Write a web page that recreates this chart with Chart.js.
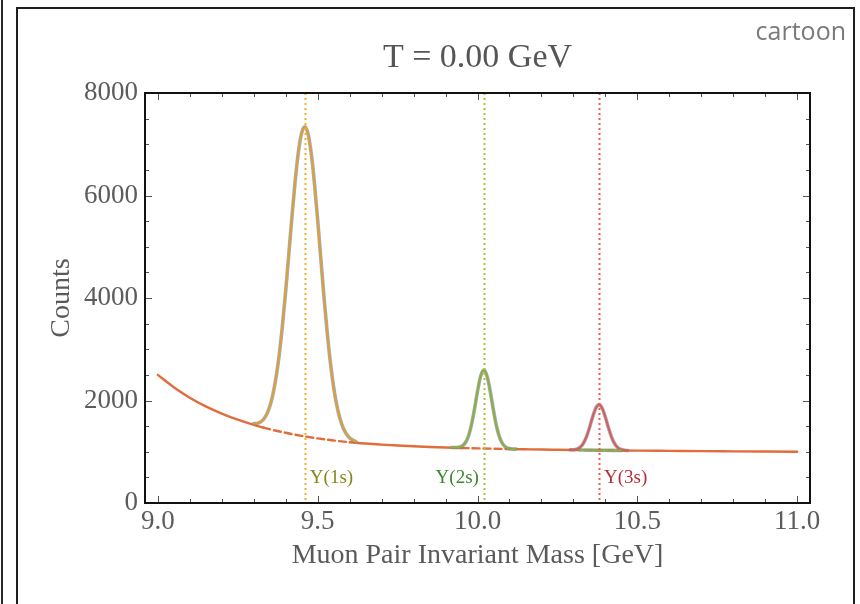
<!DOCTYPE html>
<html>
<head>
<meta charset="utf-8">
<title>Upsilon states, T = 0.00 GeV</title>
<script src="https://cdn.jsdelivr.net/npm/chart.js@4.4.1/dist/chart.umd.min.js"></script>
<style>
  html, body { margin: 0; padding: 0; background: #fff; }
  #wrap { position: relative; width: 860px; height: 604px; overflow: hidden; }
  #edge { position: absolute; left: 1px; top: 0; width: 2px; height: 604px; background: #2a2a2a; }
  #frame { position: absolute; left: 16px; top: 7px; width: 839px; height: 640px;
           border: 2px solid #1e1e1e; box-sizing: border-box; }
  canvas { position: absolute; left: 0; top: 0; }
</style>
</head>
<body>
<div id="wrap">
  <div id="edge"></div>
  <div id="frame"></div>
  <canvas id="c" width="860" height="604"></canvas>
</div>
<script>
// Smooth continuum under the resonances (GeV, counts)
const bgMass   = [9.00, 9.05, 9.10, 9.15, 9.20, 9.25, 9.30, 9.33, 9.35, 9.40, 9.45, 9.50, 9.55, 9.60,
                  9.65, 9.70, 9.75, 9.80, 9.85, 9.90, 9.95, 10.00, 10.05, 10.10, 10.15, 10.20, 10.25,
                  10.30, 10.35, 10.40, 10.45, 10.50, 10.60, 10.70, 10.80, 10.90, 11.00];
const bgCounts = [2500, 2260, 2055, 1885, 1745, 1625, 1525, 1473, 1440, 1370, 1310, 1260, 1220, 1185,
                  1160, 1140, 1122, 1107, 1094, 1083, 1074, 1066, 1059, 1053, 1048, 1043, 1039,
                  1035, 1031, 1028, 1025, 1022, 1017, 1012, 1008, 1004, 1000];

// Upsilon(1S) peak on top of the continuum
const y1sMass   = [9.30, 9.31, 9.32, 9.33, 9.34, 9.35, 9.36, 9.37, 9.38, 9.39, 9.40, 9.41, 9.42, 9.43,
                   9.44, 9.45, 9.46, 9.47, 9.48, 9.49, 9.50, 9.51, 9.52, 9.53, 9.54, 9.55, 9.56, 9.57,
                   9.58, 9.59, 9.60, 9.61, 9.62];
const y1sCounts = [1548, 1553, 1576, 1627, 1721, 1877, 2116, 2452, 2903, 3469, 4135, 4869, 5614, 6302,
                   6860, 7220, 7340, 7200, 6818, 6238, 5528, 4763, 4009, 3322, 2734, 2261, 1903, 1643,
                   1464, 1346, 1271, 1226, 1198];

// Upsilon(2S) peak (continuing along the continuum under the 3S)
const y2sMass   = [9.92, 9.93, 9.94, 9.95, 9.96, 9.97, 9.98, 9.99, 10.00, 10.01, 10.02, 10.03, 10.04,
                   10.05, 10.06, 10.07, 10.08, 10.09, 10.10, 10.11, 10.12, 10.20,
                   10.32, 10.35, 10.40, 10.45];
const y2sCounts = [1082, 1082, 1086, 1104, 1158, 1278, 1494, 1813, 2177, 2477, 2593, 2474, 2172,
                   1804, 1483, 1264, 1142, 1084, 1062, 1054, 1051, null,
                   1034, 1031, 1028, 1025];

// Upsilon(3S) peak
const y3sMass   = [10.29, 10.30, 10.31, 10.32, 10.33, 10.34, 10.35, 10.36, 10.37, 10.38, 10.39, 10.40,
                   10.41, 10.42, 10.43, 10.44, 10.45, 10.46, 10.47];
const y3sCounts = [1037, 1040, 1052, 1084, 1153, 1279, 1464, 1676, 1850, 1919, 1849, 1674,
                   1460, 1273, 1146, 1075, 1043, 1029, 1024];

// Resonance markers
const stateMass  = [9.46, 10.02, 10.38];
const stateNames = ['Υ(1s)', 'Υ(2s)', 'Υ(3s)'];
const labelLevel = 480;

// Axis ticks
const xTicks = [9.0, 9.5, 10.0, 10.5, 11.0];
const yTicks = [0, 2000, 4000, 6000, 8000];

const SERIF = '"Liberation Serif", "Times New Roman", serif';

const pts = (xs, ys) => xs.map((m, i) => ({ x: m, y: ys[i] }));

// continuum is dashed where it runs beneath a peak
const dashedSpans = [[9.33, 9.60], [9.95, 10.10], [10.30, 10.45]];
const underPeak = c => {
  const mid = (c.p0.parsed.x + c.p1.parsed.x) / 2;
  return dashedSpans.some(([a, b]) => mid > a && mid < b);
};

const peakColors   = ['#e0a12c', '#8fb032', '#dc5d4e'];
const markerColors = ['#f2b01e', '#a9c23a', '#ec5f4c'];
const labelColors  = ['#85861c', '#3c8a2c', '#b4303a'];
const labelAlign   = ['left', 'right', 'left'];

const peaks = [pts(y1sMass, y1sCounts), pts(y2sMass, y2sCounts), pts(y3sMass, y3sCounts)];

const datasets = [];
// colored peak curves (top-most)
peaks.forEach((d, i) => datasets.push({
  data: d, borderColor: peakColors[i], borderWidth: 2, order: 1 + i, spanGaps: false
}));
// soft blue-grey rim beneath each peak curve
peaks.forEach((d, i) => datasets.push({
  data: d, borderColor: 'rgba(112,126,168,0.65)', borderWidth: 3.6, order: 5, spanGaps: false
}));
// continuum
datasets.push({
  data: pts(bgMass, bgCounts), borderColor: '#e06d3c', borderWidth: 2.4, order: 9,
  segment: { borderDash: c => underPeak(c) ? [7, 4] : undefined }
});

function minorTicks(min, max, step) {
  const out = [];
  for (let v = Math.ceil(min / step - 1e-9) * step; v <= max + 1e-9; v += step) out.push(+v.toFixed(6));
  return out;
}

const framePlugin = {
  id: 'framePlugin',
  afterDatasetsDraw(chart) {
    const { ctx, chartArea: a, scales: { x, y } } = chart;
    ctx.save();
    ctx.beginPath(); ctx.rect(a.left, a.top, a.right - a.left, a.bottom - a.top); ctx.clip();
    // dotted vertical markers at the resonance masses
    ctx.lineWidth = 2;
    ctx.setLineDash([2, 3]);
    stateMass.forEach((m, i) => {
      const px = Math.round(x.getPixelForValue(m)) + 0.5;
      ctx.strokeStyle = markerColors[i];
      ctx.beginPath(); ctx.moveTo(px, a.top); ctx.lineTo(px, a.bottom); ctx.stroke();
    });
    ctx.setLineDash([]);
    // state names
    ctx.font = '19px ' + SERIF;
    ctx.textBaseline = 'middle';
    stateMass.forEach((m, i) => {
      const px = x.getPixelForValue(m);
      ctx.fillStyle = labelColors[i];
      ctx.textAlign = labelAlign[i];
      ctx.fillText(stateNames[i], px + (labelAlign[i] === 'left' ? 5 : -5), y.getPixelForValue(labelLevel));
    });
    ctx.restore();
  },
  afterDraw(chart) {
    const { ctx, chartArea: a, scales: { x, y } } = chart;
    ctx.save();
    // inward frame ticks on all four sides
    ctx.strokeStyle = '#555';
    ctx.lineWidth = 1;
    const tick = (x0, y0, x1, y1) => { ctx.beginPath(); ctx.moveTo(x0, y0); ctx.lineTo(x1, y1); ctx.stroke(); };
    minorTicks(x.min, x.max, 0.1).forEach(v => {
      const major = xTicks.some(t => Math.abs(t - v) < 1e-6);
      const len = major ? 7 : 4;
      const px = Math.round(x.getPixelForValue(v)) + 0.5;
      tick(px, a.bottom, px, a.bottom - len);
      tick(px, a.top, px, a.top + len);
    });
    minorTicks(y.min, y.max, 500).forEach(v => {
      const major = yTicks.includes(v);
      const len = major ? 7 : 4;
      const py = Math.round(y.getPixelForValue(v)) + 0.5;
      tick(a.left, py, a.left + len, py);
      tick(a.right, py, a.right - len, py);
    });
    // plot frame
    ctx.strokeStyle = '#111';
    ctx.lineWidth = 2;
    ctx.strokeRect(a.left, a.top, a.right - a.left, a.bottom - a.top);
    // heading
    ctx.fillStyle = '#555';
    ctx.font = '34px ' + SERIF;
    ctx.textAlign = 'center';
    ctx.textBaseline = 'alphabetic';
    ctx.fillText('T = 0.00 GeV', (a.left + a.right) / 2, 67);
    // corner note
    ctx.fillStyle = '#7a7a7a';
    ctx.font = '25px "Open Sans", sans-serif';
    ctx.textAlign = 'right';
    ctx.fillText('cartoon', 846, 40);
    ctx.restore();
  }
};

function build() {
  new Chart(document.getElementById('c'), {
    type: 'line',
    data: { datasets },
    options: {
      responsive: false,
      animation: false,
      events: [],
      layout: { padding: { left: 0, right: 50, top: 93, bottom: 0 } },
      elements: {
        point: { radius: 0 },
        line: { cubicInterpolationMode: 'monotone', fill: false, borderCapStyle: 'round' }
      },
      plugins: { legend: { display: false }, tooltip: { enabled: false }, title: { display: false } },
      scales: {
        x: {
          type: 'linear', min: 8.96, max: 11.04,
          grid: { display: false }, border: { display: false },
          afterBuildTicks: s => { s.ticks = xTicks.map(v => ({ value: v })); },
          afterFit: s => { s.height = 101; },
          ticks: { padding: -5, color: '#5c5c5c', font: { family: SERIF, size: 27 },
                   maxRotation: 0, autoSkip: false, callback: v => v.toFixed(1) },
          title: { display: true, text: 'Muon Pair Invariant Mass [GeV]', color: '#5a5a5a',
                   font: { family: SERIF, size: 28 }, padding: { top: 0, bottom: 32 } }
        },
        y: {
          type: 'linear', min: 0, max: 8000,
          grid: { display: false }, border: { display: false },
          afterBuildTicks: s => { s.ticks = yTicks.map(v => ({ value: v })); },
          afterFit: s => { s.width = 145; },
          ticks: { padding: -1, color: '#5c5c5c', font: { family: SERIF, size: 27 },
                   autoSkip: false, callback: v => String(v) },
          title: { display: true, text: 'Counts', color: '#5a5a5a',
                   font: { family: SERIF, size: 28 }, padding: { top: 45, bottom: 0 } }
        }
      }
    },
    plugins: [framePlugin]
  });
}

Promise.all([
  document.fonts.load('27px "Liberation Serif"'),
  document.fonts.load('25px "Open Sans"')
]).then(build, build);
</script>
</body>
</html>
